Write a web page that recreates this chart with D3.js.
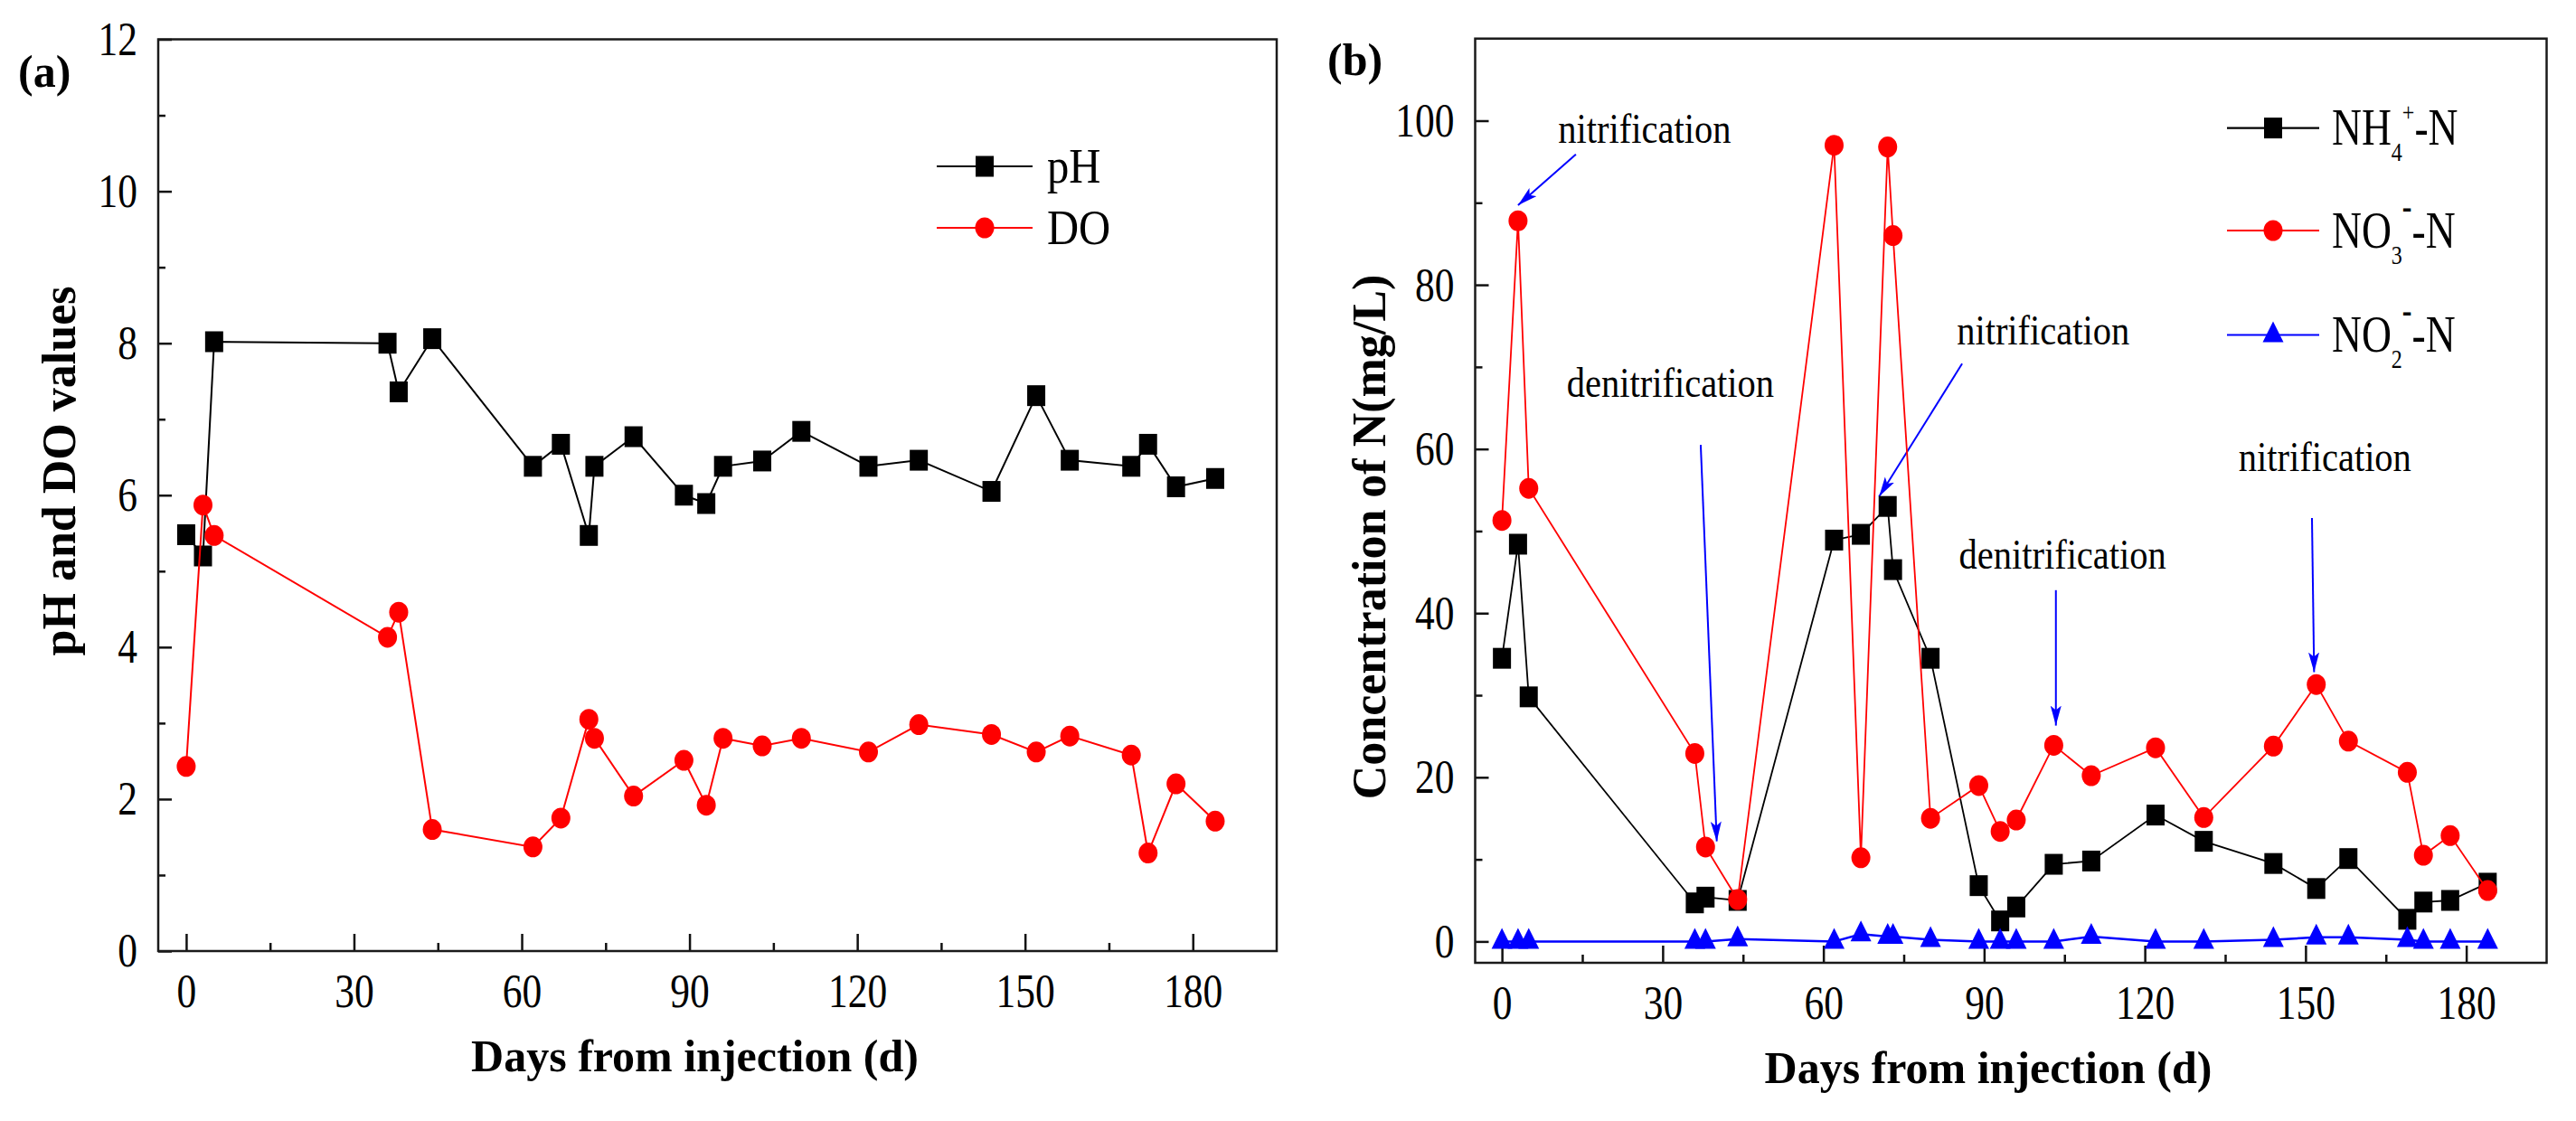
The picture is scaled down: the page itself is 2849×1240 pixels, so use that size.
<!DOCTYPE html>
<html>
<head>
<meta charset="utf-8">
<script src="https://cdn.jsdelivr.net/npm/d3@7"></script>
<style>
  body { margin: 0; background: #fff; }
  svg text { font-family: "Liberation Serif", "Times New Roman", serif; fill: #000; }
</style>
</head>
<body>
<div id="chart"></div>
<script>
////////////////////////////////////////////////////////////////////
////////////////////////////  Data  ////////////////////////////////
const days = [0, 3, 5, 36, 38, 44, 62, 67, 72, 73, 80, 89, 93, 96, 103, 110, 122, 131, 144, 152, 158, 169, 172, 177, 184];

// panel (a)
const pH = [5.48, 5.2, 8.02, 8.0, 7.36, 8.06, 6.38, 6.67, 5.47, 6.38, 6.77, 6.0, 5.89, 6.38, 6.45, 6.84, 6.38, 6.46, 6.05, 7.31, 6.46, 6.38, 6.67, 6.11, 6.22];
const DO = [2.43, 5.87, 5.47, 4.13, 4.46, 1.6, 1.37, 1.75, 3.05, 2.8, 2.04, 2.51, 1.92, 2.8, 2.7, 2.8, 2.62, 2.98, 2.85, 2.62, 2.83, 2.58, 1.29, 2.2, 1.71];

// panel (b)
const nh4 = [34.5, 48.4, 29.8, 4.7, 5.4, 5.0, 48.9, 49.6, 53.0, 45.3, 34.5, 6.8, 2.5, 4.2, 9.4, 9.8, 15.4, 12.2, 9.5, 6.45, 10.1, 2.7, 4.8, 5.0, 7.1];
const no3 = [51.3, 87.8, 55.2, 22.9, 11.5, 5.1, 97.0, 10.2, 96.8, 86.0, 15.0, 19.0, 13.4, 14.8, 23.9, 20.2, 23.6, 15.1, 23.8, 31.3, 24.4, 20.6, 10.5, 12.9, 6.2];
const no2 = [0.0, 0.0, 0.0, 0.0, 0.0, 0.3, 0.0, 0.9, 0.6, 0.6, 0.2, 0.0, 0.0, 0.0, 0.0, 0.6, 0.0, 0.0, 0.2, 0.5, 0.5, 0.2, 0.0, 0.0, 0.0];

// ticks
const dayTicks = [0, 30, 60, 90, 120, 150, 180];
const dayMinor = [15, 45, 75, 105, 135, 165];
const phTicks = [0, 2, 4, 6, 8, 10, 12];
const phMinor = [1, 3, 5, 7, 9, 11];
const nTicks = [0, 20, 40, 60, 80, 100];
const nMinor = [10, 30, 50, 70, 90];

// annotations of panel (b), in data units (day, mg/L)
const notes = [
  { label: "nitrification", at: [10.5, 97.3], from: [13.8, 95.9], to: [3.0, 89.7] },
  { label: "denitrification", at: [12.1, 66.3], from: [37.1, 60.5], to: [40.1, 12.2] },
  { label: "nitrification", at: [84.9, 72.7], from: [85.9, 70.4], to: [70.4, 54.2] },
  { label: "denitrification", at: [85.3, 45.4], from: [103.4, 42.8], to: [103.4, 26.3] },
  { label: "nitrification", at: [137.5, 57.3], from: [151.2, 51.6], to: [151.6, 32.8] },
];

////////////////////////////////////////////////////////////////////
////////////////////////////  Init  ////////////////////////////////
const W = 2849, H = 1240;
const RED = "#ff0000", BLUE = "#0000ff";
const TICK_SX = 0.82; // the source font is a narrow Times

const svg = d3.select("#chart").append("svg").attr("width", W).attr("height", H);
svg.append("rect").attr("width", W).attr("height", H).attr("fill", "#fff");

const defs = svg.append("defs");
defs.append("marker")
  .attr("id", "arrow")
  .attr("markerUnits", "userSpaceOnUse")
  .attr("markerWidth", 30)
  .attr("markerHeight", 16)
  .attr("refX", 22)
  .attr("refY", 6)
  .attr("orient", "auto")
  .append("path")
  .attr("d", "M0,0L22,6L0,12L5,6Z")
  .attr("fill", BLUE);

const shapes = {
  square: "M-10,-11.5H10V11.5H-10Z",
  circle: "M-10.5,0A10.5,11.5 0 1,0 10.5,0A10.5,11.5 0 1,0 -10.5,0Z",
  triangle: "M0,-15L11.5,8L-11.5,8Z",
};

// scales
const xA = d3.scaleLinear().domain([-5, 195]).range([175, 1412]);
const yA = d3.scaleLinear().domain([0, 12]).range([1052, 43.5]);
const xB = d3.scaleLinear().domain([-5, 195]).range([1631.5, 2816.5]);
const yB = d3.scaleLinear().domain([-2.6, 110]).range([1065, 42.7]);

////////////////////////////////////////////////////////////////////
////////////////////////////  Axes  ////////////////////////////////
function drawAxes(x, y, yMajor, yMinor) {
  const g = svg.append("g");
  const [x0, x1] = x.range();
  const [y0, y1] = y.range();

  const xMaj = g.append("g")
    .attr("transform", `translate(0,${y0})`)
    .call(d3.axisBottom(x).tickValues(dayTicks).tickSize(-19).tickSizeOuter(0).tickPadding(24));
  const xMin = g.append("g")
    .attr("transform", `translate(0,${y0})`)
    .call(d3.axisBottom(x).tickValues(dayMinor).tickSize(-9).tickSizeOuter(0).tickFormat(""));
  const yMaj = g.append("g")
    .attr("transform", `translate(${x0},0)`)
    .call(d3.axisLeft(y).tickValues(yMajor).tickSize(-15).tickSizeOuter(0).tickPadding(23 / TICK_SX));
  const yMin = g.append("g")
    .attr("transform", `translate(${x0},0)`)
    .call(d3.axisLeft(y).tickValues(yMinor).tickSize(-8).tickSizeOuter(0).tickFormat(""));

  [xMaj, xMin, yMaj, yMin].forEach((a) => {
    a.select(".domain").remove();
    a.selectAll(".tick line").attr("stroke", "#111").attr("stroke-width", 2.5);
    a.selectAll(".tick text")
      .style("font-size", "53px")
      .attr("transform", `scale(${TICK_SX},1)`);
  });

  // frame
  g.append("rect")
    .attr("x", x0)
    .attr("y", y1)
    .attr("width", x1 - x0)
    .attr("height", y0 - y1)
    .attr("fill", "none")
    .attr("stroke", "#1a1a1a")
    .attr("stroke-width", 2.5);
  return g;
}

function axisTitles(x, y, xTitle, yTitle, yTitleX, yTitleY) {
  const [x0, x1] = x.range();
  const y0 = y.range()[0];
  svg.append("text")
    .attr("x", (x0 + x1) / 2 - 25)
    .attr("y", y0 + 133)
    .attr("text-anchor", "middle")
    .style("font-size", "50px")
    .style("font-weight", "bold")
    .text(xTitle);
  svg.append("text")
    .attr("transform", `translate(${yTitleX},${yTitleY}) rotate(-90)`)
    .attr("text-anchor", "middle")
    .style("font-size", "52px")
    .style("font-weight", "bold")
    .text(yTitle);
}

////////////////////////////////////////////////////////////////////
////////////////////////////  Series  //////////////////////////////
function drawSeries(g, x, y, vals, color, shape, lw) {
  const pts = days.map((d, i) => [d, vals[i]]);
  g.append("path")
    .datum(pts)
    .attr("d", d3.line().x((d) => x(d[0])).y((d) => y(d[1])))
    .attr("fill", "none")
    .attr("stroke", color)
    .attr("stroke-width", lw);
  g.selectAll(null)
    .data(pts)
    .join("path")
    .attr("transform", (d) => `translate(${x(d[0])},${y(d[1])})`)
    .attr("d", shapes[shape])
    .attr("fill", color);
}

function legendRow(g, x0, x1, yy, color, shape, lw) {
  g.append("line")
    .attr("x1", x0).attr("x2", x1)
    .attr("y1", yy).attr("y2", yy)
    .attr("stroke", color)
    .attr("stroke-width", lw);
  g.append("path")
    .attr("transform", `translate(${(x0 + x1) / 2},${yy})`)
    .attr("d", shapes[shape])
    .attr("fill", color);
}

////////////////////////////////////////////////////////////////////
////////////////////////////  Panel (a)  ///////////////////////////
const gA = drawAxes(xA, yA, phTicks, phMinor);
drawSeries(gA, xA, yA, pH, "#000", "square", 2);
drawSeries(gA, xA, yA, DO, RED, "circle", 2);
axisTitles(xA, yA, "Days from injection (d)", "pH and DO values", 83, 521);

svg.append("text").attr("x", 20).attr("y", 96)
  .style("font-size", "50px").style("font-weight", "bold").text("(a)");

// legend (a)
const legA = svg.append("g");
[["pH", "#000", "square", 184], ["DO", RED, "circle", 252]].forEach(([name, c, s, yy]) => {
  legendRow(legA, 1036, 1142, yy, c, s, 2.2);
  legA.append("g")
    .attr("transform", `translate(1158,${yy + 18}) scale(0.9,1)`)
    .append("text")
    .style("font-size", "54px")
    .text(name);
});

////////////////////////////////////////////////////////////////////
////////////////////////////  Panel (b)  ///////////////////////////
const gB = drawAxes(xB, yB, nTicks, nMinor);

// annotation arrows under the data
notes.forEach((n) => {
  gB.append("line")
    .attr("x1", xB(n.from[0])).attr("y1", yB(n.from[1]))
    .attr("x2", xB(n.to[0])).attr("y2", yB(n.to[1]))
    .attr("stroke", BLUE)
    .attr("stroke-width", 2)
    .attr("marker-end", "url(#arrow)");
  gB.append("g")
    .attr("transform", `translate(${xB(n.at[0])},${yB(n.at[1])}) scale(0.88,1)`)
    .append("text")
    .style("font-size", "46px")
    .text(n.label);
});

drawSeries(gB, xB, yB, nh4, "#000", "square", 1.8);
drawSeries(gB, xB, yB, no3, RED, "circle", 1.8);
drawSeries(gB, xB, yB, no2, BLUE, "triangle", 2.5);
axisTitles(xB, yB, "Days from injection (d)", "Concentration of N(mg/L)", 1532, 594);

svg.append("text").attr("x", 1468).attr("y", 83)
  .style("font-size", "50px").style("font-weight", "bold").text("(b)");

// legend (b)
const legB = svg.append("g");
const legRows = [
  { base: "NH", sub: "4", sup: "+", color: "#000", shape: "square", y: 141.6 },
  { base: "NO", sub: "3", sup: "-", color: RED, shape: "circle", y: 255 },
  { base: "NO", sub: "2", sup: "-", color: BLUE, shape: "triangle", y: 370.5 },
];
legRows.forEach((r) => {
  legendRow(legB, 2463, 2565, r.y, r.color, r.shape, 2.2);
  const t = legB.append("g")
    .attr("transform", `translate(2579,${r.y + 18.5}) scale(0.8,1)`)
    .append("text")
    .style("font-size", "57px");
  t.append("tspan").text(r.base);
  t.append("tspan").attr("dy", 18).style("font-size", "30px").text(r.sub);
  if (r.sup === "+") {
    t.append("tspan").attr("dy", -44).style("font-size", "30px").text("+");
    t.append("tspan").attr("dy", 26).text("-N");
  } else {
    t.append("tspan").attr("dy", -50).style("font-size", "40px").style("font-weight", "bold").text("-");
    t.append("tspan").attr("dy", 32).text("-N");
  }
});
</script>
</body>
</html>
